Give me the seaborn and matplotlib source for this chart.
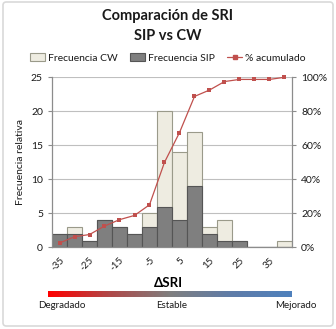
import matplotlib
matplotlib.use('Agg')
import matplotlib.pyplot as plt
import seaborn as sns
import numpy as np
from matplotlib.patches import Patch, FancyBboxPatch
from matplotlib.lines import Line2D
from matplotlib.colors import LinearSegmentedColormap
from matplotlib.ticker import PercentFormatter

# datos
bins = [-35, -30, -25, -20, -15, -10, -5, 0, 5, 10, 15, 20, 25, 30, 35, 40]
freq_cw = [2, 3, 1, 4, 3, 2, 5, 20, 14, 17, 3, 4, 1, 0, 0, 1]
freq_sip = [2, 2, 1, 4, 3, 2, 3, 6, 4, 9, 2, 1, 1, 0, 0, 0]
pct_acum = [2.5, 6.25, 7.5, 12.5, 16.25, 18.75, 25, 50, 67.5, 88.75, 92.5, 97.5, 98.75, 98.75, 98.75, 100]
tick_labels = ['-35', '-25', '-15', '-5', '5', '15', '25', '35']

sns.set_style('white')
plt.rcParams['font.family'] = ['Lato', 'DejaVu Sans']
txt = '#1a1a1a'
gris = '#8c8c8c'

fig = plt.figure(figsize=(3.36, 3.29), dpi=100)
ax = fig.add_axes([52/336, 1-247.3/329, 240/336, 170/329])

pos = np.arange(len(bins))
sns.barplot(x=pos, y=freq_cw, color='#eeece1', width=1.0, edgecolor='#9a9a8a',
            linewidth=0.8, ax=ax, saturation=1)
sns.barplot(x=pos, y=freq_sip, color='#7f7f7f', width=1.0, edgecolor='#555555',
            linewidth=0.8, ax=ax, saturation=1)
ax.set_xlim(-0.5, 15.5)
ax.set_ylim(0, 25)
ax.set_yticks(range(0, 26, 5))
ax.yaxis.grid(True, color='#bfbfbf', linewidth=0.8)
ax.set_axisbelow(True)
ax.set_xticks(pos[::2])
ax.set_xticklabels(tick_labels, rotation=45, ha='right', rotation_mode='anchor')
ax.set_xticks(np.arange(-0.5, 16, 1), minor=True)
ax.tick_params(axis='x', which='major', length=0, pad=6, labelsize=7, colors=txt)
ax.tick_params(axis='x', which='minor', length=3, color=gris, width=0.8, direction='out')
ax.tick_params(axis='y', length=3, color=gris, width=0.8, labelsize=7.5, colors=txt, left=True)
ax.set_xlabel('')
ax.set_ylabel('Frecuencia relativa', fontsize=7.5, color=txt, labelpad=4)
for s in ['top', 'right']:
    ax.spines[s].set_visible(False)
for s in ['left', 'bottom']:
    ax.spines[s].set_color(gris)
    ax.spines[s].set_linewidth(0.9)

ax2 = ax.twinx()
sns.lineplot(x=pos, y=np.array(pct_acum) / 100, color='#c0504d', marker='s',
             markersize=3.5, markeredgewidth=0, linewidth=0.9, ax=ax2, clip_on=False)
ax2.set_ylim(0, 1)
ax2.set_yticks(np.arange(0, 1.01, 0.2))
ax2.yaxis.set_major_formatter(PercentFormatter(1.0, decimals=0))
ax2.tick_params(axis='y', length=3, color=gris, width=0.8, labelsize=7.5, colors=txt, right=True)
for s in ['top', 'left', 'bottom']:
    ax2.spines[s].set_visible(False)
ax2.spines['right'].set_color(gris)
ax2.spines['right'].set_linewidth(0.9)
ax2.set_ylabel('')

# títulos
fig.text(0.5, 1-16/329, 'Comparación de SRI', ha='center', va='center',
         fontsize=10.5, fontweight='bold', color=txt)
fig.text(0.5, 1-36/329, 'SIP vs CW', ha='center', va='center',
         fontsize=10.5, fontweight='bold', color=txt)

handles = [Patch(facecolor='#eeece1', edgecolor='#9a9a8a', linewidth=0.8),
           Patch(facecolor='#7f7f7f', edgecolor='#555555', linewidth=0.8),
           Line2D([0], [0], color='#c0504d', marker='s', markersize=3, linewidth=0.9)]
fig.legend(handles, ['Frecuencia CW', 'Frecuencia SIP', '% acumulado'],
           loc='center', bbox_to_anchor=(0.5, 1-58/329), ncol=3, frameon=False,
           fontsize=7.5, handlelength=1.4, handleheight=0.8, handletextpad=0.3,
           columnspacing=1.2, labelcolor=txt)

fig.text(168/336, 1-283/329, 'ΔSRI', ha='center', va='center',
         fontsize=9.5, fontweight='bold', color='black')

# barra de color
cmap = LinearSegmentedColormap.from_list('sri', ['#ff0000', '#b04848', '#7f7f7f', '#5f7ca8', '#4f81bd'])
cax = fig.add_axes([47.5/336, 1-297/329, 244/336, 6/329])
cax.imshow(np.linspace(0, 1, 256)[None, :], aspect='auto', cmap=cmap)
cax.set_axis_off()

fig.text(62/336, 1-306/329, 'Degradado', ha='center', va='center', fontsize=7, color=txt)
fig.text(172/336, 1-306/329, 'Estable', ha='center', va='center', fontsize=7, color=txt)
fig.text(296/336, 1-306/329, 'Mejorado', ha='center', va='center', fontsize=7, color=txt)

# marco exterior
fig.patches.append(FancyBboxPatch((3/336, 3/329), 330/336, 324/329,
                                  boxstyle='round,pad=0,rounding_size=0.01',
                                  transform=fig.transFigure, facecolor='none',
                                  edgecolor='#d9d9d9', linewidth=1.2))

fig.savefig('out.png', dpi=100)
